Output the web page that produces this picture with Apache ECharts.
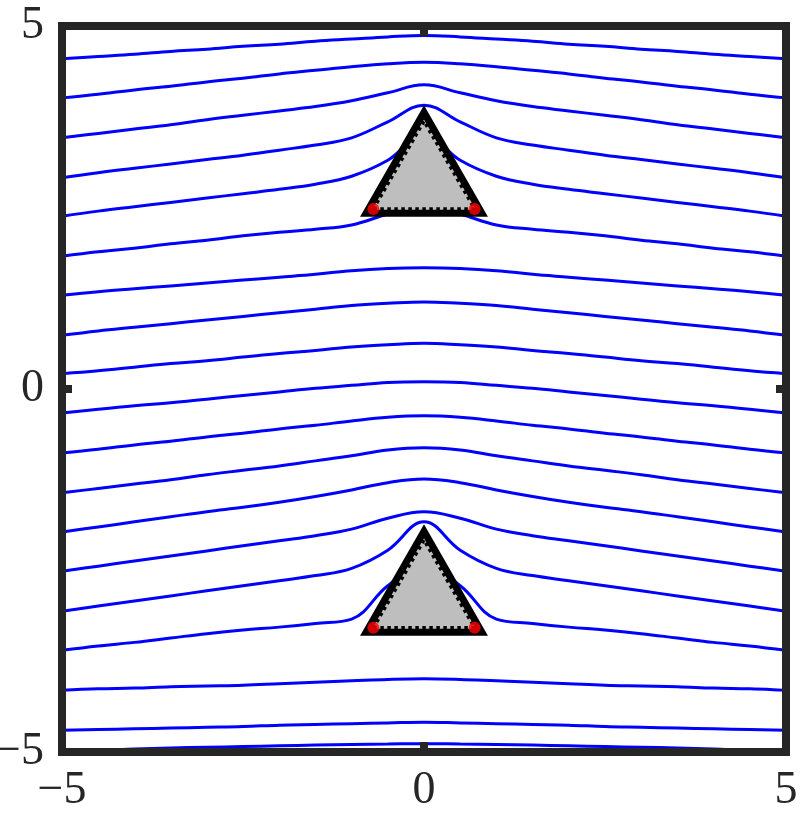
<!DOCTYPE html>
<html>
<head>
<meta charset="utf-8">
<script src="https://cdn.jsdelivr.net/npm/echarts@6/dist/echarts.min.js"></script>
<style>
html,body{margin:0;padding:0;background:#fff;}
#chart{width:802px;height:817px;}
</style>
</head>
<body>
<div id="chart"></div>
<script>
// sample x positions of the streamlines
const xSamples = [-5,-4.5,-4,-3.5,-3,-2.5,-2,-1.5,-1,-0.5,0,0.5,1,1.5,2,2.5,3,3.5,4,4.5,5];
// streamline y values read at xSamples
const s01 = [4.55,4.58,4.61,4.65,4.68,4.72,4.75,4.79,4.82,4.85,4.87,4.85,4.82,4.79,4.75,4.72,4.68,4.65,4.61,4.58,4.55];
const s02 = [4.01,4.06,4.12,4.17,4.23,4.28,4.34,4.39,4.44,4.48,4.50,4.48,4.44,4.39,4.34,4.28,4.23,4.17,4.12,4.06,4.01];
const s03 = [3.46,3.52,3.58,3.64,3.71,3.77,3.83,3.89,3.97,4.08,4.19,4.08,3.97,3.89,3.83,3.77,3.71,3.64,3.58,3.52,3.46];
const s04 = [2.91,2.98,3.04,3.10,3.16,3.22,3.29,3.36,3.46,3.68,3.91,3.68,3.46,3.36,3.29,3.22,3.16,3.10,3.04,2.98,2.91];
const s05 = [2.38,2.45,2.51,2.57,2.63,2.69,2.75,2.82,2.93,3.15,3.50,3.15,2.93,2.82,2.75,2.69,2.63,2.57,2.51,2.45,2.38];
const s06 = [1.83,1.89,1.94,2.00,2.05,2.11,2.16,2.20,2.26,2.41,2.53,2.41,2.26,2.20,2.16,2.11,2.05,2.00,1.94,1.89,1.83];
const s07 = [1.29,1.34,1.38,1.42,1.46,1.50,1.54,1.58,1.63,1.66,1.67,1.66,1.63,1.58,1.54,1.50,1.46,1.42,1.38,1.34,1.29];
const s08 = [0.74,0.80,0.85,0.90,0.95,1.00,1.05,1.10,1.15,1.18,1.20,1.18,1.15,1.10,1.05,1.00,0.95,0.90,0.85,0.80,0.74];
const s09 = [0.21,0.25,0.30,0.35,0.39,0.44,0.49,0.53,0.58,0.61,0.63,0.61,0.58,0.53,0.49,0.44,0.39,0.35,0.30,0.25,0.21];
const s10 = [-0.33,-0.28,-0.23,-0.19,-0.14,-0.09,-0.04,0.01,0.05,0.09,0.10,0.09,0.05,0.01,-0.04,-0.09,-0.14,-0.19,-0.23,-0.28,-0.33];
const s11 = [-0.88,-0.83,-0.77,-0.72,-0.66,-0.61,-0.55,-0.50,-0.44,-0.39,-0.37,-0.39,-0.44,-0.50,-0.55,-0.61,-0.66,-0.72,-0.77,-0.83,-0.88];
const s12 = [-1.43,-1.37,-1.31,-1.25,-1.18,-1.12,-1.06,-0.99,-0.92,-0.84,-0.81,-0.84,-0.92,-0.99,-1.06,-1.12,-1.18,-1.25,-1.31,-1.37,-1.43];
const s13 = [-1.97,-1.90,-1.83,-1.76,-1.69,-1.63,-1.56,-1.48,-1.39,-1.29,-1.24,-1.29,-1.39,-1.48,-1.56,-1.63,-1.69,-1.76,-1.83,-1.90,-1.97];
const s14 = [-2.51,-2.44,-2.37,-2.30,-2.23,-2.16,-2.09,-2.02,-1.93,-1.78,-1.69,-1.78,-1.93,-2.02,-2.09,-2.16,-2.23,-2.30,-2.37,-2.44,-2.51];
const s15 = [-3.06,-2.99,-2.92,-2.85,-2.78,-2.71,-2.64,-2.57,-2.47,-2.22,-1.83,-2.22,-2.47,-2.57,-2.64,-2.71,-2.78,-2.85,-2.92,-2.99,-3.06];
const s16 = [-3.60,-3.54,-3.49,-3.43,-3.37,-3.32,-3.28,-3.23,-3.17,-2.71,-2.42,-2.71,-3.17,-3.23,-3.28,-3.32,-3.37,-3.43,-3.49,-3.54,-3.60];
const s17 = [-4.15,-4.13,-4.12,-4.10,-4.09,-4.08,-4.06,-4.04,-4.02,-4.00,-3.99,-4.00,-4.02,-4.04,-4.06,-4.08,-4.09,-4.10,-4.12,-4.13,-4.15];
const s18 = [-4.70,-4.69,-4.68,-4.67,-4.66,-4.65,-4.63,-4.62,-4.61,-4.60,-4.59,-4.60,-4.61,-4.62,-4.63,-4.65,-4.66,-4.67,-4.68,-4.69,-4.70];
const s19 = [-4.99,-4.98,-4.96,-4.945,-4.935,-4.925,-4.915,-4.905,-4.895,-4.89,-4.885,-4.89,-4.895,-4.905,-4.915,-4.925,-4.935,-4.945,-4.96,-4.98,-4.99];
const streamlines = [s01,s02,s03,s04,s05,s06,s07,s08,s09,s10,s11,s12,s13,s14,s15,s16,s17,s18,s19];

// triangles (outer body) and inner dotted triangles
const triUpper = [[-0.8, 2.42], [0.8, 2.42], [0, 3.81]];
const triLower = [[-0.8, -3.35], [0.8, -3.35], [0, -1.96]];
const innerUpper = [[-0.7, 2.48], [0.7, 2.48], [0, 3.69]];
const innerLower = [[-0.7, -3.29], [0.7, -3.29], [0, -2.08]];
// red corner points
const redPoints = [[-0.7, 2.48], [0.7, 2.48], [-0.7, -3.29], [0.7, -3.29]];

// tick values
const ticks = [-5, 0, 5];

const outerTris = [triUpper, triLower];
const innerTris = [innerUpper, innerLower];

const chart = echarts.init(document.getElementById('chart'), null, {renderer: 'canvas'});
const FONT = 'Liberation Serif';
const axisCommon = {
  type: 'value', min: ticks[0], max: ticks[2], interval: ticks[1] - ticks[0],
  splitLine: {show: false},
  axisLine: {show: false, onZero: false},
  axisTick: {show: true, inside: true, length: 10, lineStyle: {width: 8, color: '#262626'}}
};
const labelCommon = {
  fontFamily: FONT, fontSize: 46, color: '#262626',
  formatter: v => (v < 0 ? '\u2212' + Math.abs(v) : String(v))
};

const series = [];
streamlines.forEach((ys, i) => {
  series.push({
    type: 'line', name: 'stream' + (i + 1),
    data: xSamples.map((x, k) => [x, ys[k]]),
    showSymbol: false, smooth: 0.4, clip: true,
    lineStyle: {color: '#0000ff', width: 3}, z: 2, silent: true
  });
});
series.push({
  type: 'custom', name: 'bodies', data: [0, 1], z: 3, clip: true,
  renderItem: function (params, api) {
    const pts = outerTris[params.dataIndex].map(p => api.coord(p));
    return {type: 'polygon', shape: {points: pts},
      style: {fill: '#bebebe', stroke: '#000', lineWidth: 7, lineJoin: 'miter'}};
  }
});
series.push({
  type: 'custom', name: 'inner', data: [0, 1], z: 4, clip: true,
  renderItem: function (params, api) {
    const pts = innerTris[params.dataIndex].map(p => api.coord(p));
    return {type: 'polygon', shape: {points: pts},
      style: {fill: 'none', stroke: '#000', lineWidth: 3.5, lineDash: [3.5, 3.5]}};
  }
});
series.push({
  type: 'scatter', name: 'corners', data: redPoints, symbolSize: 12, z: 5,
  itemStyle: {color: '#ff0000'}
});

chart.setOption({
  animation: false,
  backgroundColor: '#fff',
  grid: {left: 62, right: 16, top: 26, bottom: 65, show: true, borderWidth: 8,
    borderColor: '#262626', backgroundColor: 'transparent', z: 6,
    containLabel: false, outerBoundsMode: 'none'},
  xAxis: [
    Object.assign({}, axisCommon, {position: 'bottom', z: 7,
      axisLabel: Object.assign({}, labelCommon, {margin: 16})}),
    Object.assign({}, axisCommon, {position: 'top', z: 7, axisLabel: {show: false}})
  ],
  yAxis: [
    Object.assign({}, axisCommon, {position: 'left', z: 7,
      axisLabel: Object.assign({}, labelCommon, {margin: 18, padding: [0, 0, 8, 0]})}),
    Object.assign({}, axisCommon, {position: 'right', z: 7, axisLabel: {show: false}})
  ],
  series: series
});
</script>
</body>
</html>
